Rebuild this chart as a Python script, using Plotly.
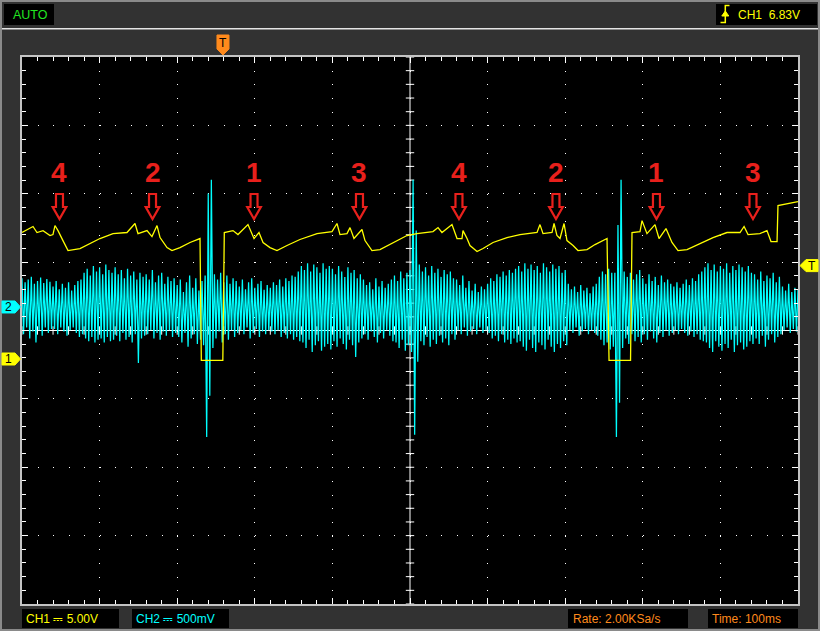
import numpy as np
import plotly.graph_objects as go

TIME_PER_DIV_MS = 100          # Time: 100ms
CH1_V_PER_DIV = 5.0            # CH1 5.00V
CH2_MV_PER_DIV = 500.0         # CH2 500mV
CH1_OFFSET_DIV = -0.417        # CH1 ground marker position (divisions from centre)
CH2_OFFSET_DIV = 0.344         # CH2 ground marker position
TRIGGER_MS = 259               # horizontal trigger position
TRIGGER_LEVEL_V = 6.83         # CH1 trigger level

# CH1 (yellow) samples: time [ms] and voltage [V]
ch1_time_ms = [0, 14.2, 19.3, 27.1, 36.1, 39.9, 42.5, 46.4, 52.8, 59.3,
               74.7, 87.6, 100.5, 117.3, 135.3, 145.6, 149.5, 161.1, 167.5, 174.0,
               177.9, 186.9, 193.3, 203.6, 216.5, 229.4, 231.1, 258.8, 260.7, 271.9,
               278.3, 291.2, 299.0, 305.4, 310.6, 319.6, 328.6, 341.5, 358.2, 380.2,
               399.5, 405.9, 409.8, 418.8, 422.7, 427.8, 438.1, 442.0, 451.0, 461.3,
               476.8, 491.0, 496.1, 509.0, 529.6, 536.1, 541.2, 554.1, 558.0, 560.6,
               567.0, 568.3, 573.5, 577.3, 586.4, 594.1, 607.0, 625.0, 641.8, 663.7,
               667.5, 671.4, 683.0, 685.6, 689.4, 693.3, 698.5, 702.3, 710.1, 716.5,
               728.1, 738.4, 753.9, 756.5, 784.2, 786.1, 796.4, 799.0, 805.4, 815.7,
               820.9, 829.9, 837.6, 845.4, 857.0, 873.7, 890.5, 908.5, 925.3, 930.5,
               935.6, 950.8, 960.0, 965.2, 973.0, 974.2, 985.8, 1000]
ch1_volts = [9.25, 9.69, 9.25, 9.39, 9.03, 9.10, 9.76, 9.39, 8.66, 7.93,
             8.08, 8.44, 8.81, 9.17, 9.25, 9.91, 9.17, 9.39, 8.95, 9.76,
             8.88, 8.15, 7.93, 8.15, 8.52, 8.81, -0.1, -0.1, 9.25, 9.39,
             9.10, 9.83, 8.81, 9.25, 8.52, 8.15, 7.93, 8.30, 8.74, 9.17,
             9.32, 9.91, 9.10, 9.17, 9.61, 8.81, 9.47, 8.66, 7.93, 8.00,
             8.44, 8.88, 9.03, 9.17, 9.32, 9.61, 9.25, 9.83, 9.25, 8.81,
             8.81, 9.39, 8.81, 8.30, 7.86, 8.08, 8.52, 8.88, 9.10, 9.25,
             9.83, 9.17, 9.25, 9.91, 9.03, 8.81, 9.91, 8.66, 8.30, 7.93,
             8.00, 8.37, 8.81, -0.1, -0.1, 9.25, 9.32, 10.12, 9.17, 9.83,
             8.81, 9.54, 8.52, 7.93, 8.00, 8.44, 8.88, 9.25, 9.25, 9.69,
             9.10, 9.17, 9.39, 8.59, 8.59, 11.22, 11.37, 11.51]

# CH2 (cyan): one oscillation every 4 ms, peak and trough of each one [mV]
ch2_step_ms = 4
ch2_peak_mv = [
    210, 180, 200, 220, 170, 190, 215, 175, 205, 185,
    150, 190, 130, 170, 140, 180, 120, 160, 190, 200,
    250, 280, 230, 300, 260, 290, 240, 310, 270, 250,
    290, 240, 270, 210, 280, 230, 260, 200, 250, 220,
    240, 200, 270, 180, 230, 250, 170, 220, 190, 210,
    160, 200, 110, 180, 230, 140, 210, 120, 190,
    230, 830, 930,
    240, 200, 250, 180, 230, 170, 210, 190,
    150, 200, 130, 180, 210, 140, 170, 190, 125, 160,
    140, 180, 160, 200, 150, 210, 190, 230, 220, 260,
    300, 270, 320, 260, 310, 290, 250, 320, 280, 300,
    280, 240, 300, 260, 220, 290, 250, 270, 210, 240,
    200, 160, 180, 130, 210, 150, 190, 140, 170, 200,
    230, 190, 260, 210, 250, 270,
    930, 560,
    310, 260, 290, 230, 300, 250, 280, 220, 270, 240, 260, 210,
    200, 160, 230, 140, 190, 120, 170, 110, 150, 130,
    170, 210, 190, 240, 220, 260, 230, 270, 250, 280,
    300, 260, 320, 280, 310, 270, 300, 250, 320, 290, 260, 310, 280, 300, 250, 270,
    170, 130, 150, 110, 160, 120, 140, 100, 150, 170,
    220, 260, 240, 280, 250,
    250, 600, 930,
    260, 220, 250, 200, 240, 270,
    210, 170, 240, 190, 220, 160, 230, 180, 200, 170,
    150, 180, 140, 170, 200, 160, 210, 190, 240, 260,
    290, 320, 270, 310, 260, 300, 280, 320, 250, 300, 270, 310, 290, 260, 300, 250,
    240, 200, 260, 190, 230, 210, 250, 180, 220,
    150, 120, 170, 110, 140, 130]
ch2_trough_mv = [
    -200, -150, -230, -180, -260, -170, -210, -150, -190, -160,
    -160, -200, -150, -180, -210, -170, -150, -190, -220, -200,
    -230, -250, -220, -260, -240, -230, -260, -220, -250, -240,
    -210, -250, -190, -240, -220, -260, -200, -410, -230, -210,
    -200, -170, -230, -190, -240, -180, -210, -170, -220, -190,
    -220, -260, -190, -290, -230, -200, -270, -240, -280,
    -950, -650, -300,
    -230, -180, -260, -200, -240, -170, -220, -190,
    -170, -200, -150, -230, -190, -160, -220, -180, -200, -170,
    -180, -200, -170, -220, -190, -230, -200, -240, -220, -250,
    -260, -300, -240, -330, -280, -250, -320, -290, -270, -310,
    -250, -290, -230, -270, -310, -240, -280, -365, -260, -230,
    -200, -240, -180, -220, -260, -190, -230, -170, -210, -250,
    -260, -300, -240, -320, -280, -330,
    -935, -400,
    -250, -280, -220, -290, -240, -270, -210, -260, -230, -280, -200, -240,
    -170, -200, -150, -210, -180, -160, -200, -150, -190, -170,
    -190, -230, -210, -250, -200, -260, -240, -270, -230, -260,
    -250, -290, -320, -240, -300, -330, -260, -280, -310, -240, -290, -330, -270, -300, -250, -280,
    -170, -190, -150, -210, -180, -160, -200, -170, -190, -210,
    -240, -280, -260, -310, -290,
    -950, -700, -300,
    -230, -270, -200, -250, -220, -260,
    -200, -240, -180, -230, -260, -190, -220, -170, -210, -190,
    -170, -200, -160, -190, -210, -180, -220, -200, -240, -250,
    -260, -300, -330, -250, -290, -320, -270, -300, -240, -330, -280, -260, -310, -290, -250, -270,
    -230, -270, -210, -290, -240, -200, -260, -220, -200,
    -170, -150, -190, -160, -180, -160]

# red numbered markers above the CH1 trace
event_ms = [48.3, 168.2, 299.0, 434.9, 563.1, 688.1, 817.6, 942.0]
event_labels = ["4", "2", "1", "3", "4", "2", "1", "3"]

header_mode = "AUTO"
header_trigger = "CH1\u00a0\u00a06.83V"
footer_ch1 = "CH1 \u2393 5.00V"
footer_ch2 = "CH2 \u2393 500mV"
footer_rate = "Rate: 2.00KSa/s"
footer_time = "Time: 100ms"

# ---------------- geometry ----------------
W, H = 820, 631
ML, MR, MT, MB = 22, 22, 57, 27
PW, PH = W - ML - MR, H - MT - MB
NX, NY = 10, 8
X_MAX = NX * TIME_PER_DIV_MS
MS_PER_PX = X_MAX / PW
DIV_PER_PX = NY / PH


def px(x):
    return (x - ML) / PW


def py(y):
    return (H - MB - y) / PH


FONT = "Liberation Sans, Arial, DejaVu Sans, sans-serif"
YEL, CYAN, ORANGE, GREEN, RED = "#ffff00", "#00ffff", "#ff8a1c", "#22e622", "#e8201c"

ch1_div = [CH1_OFFSET_DIV + v / CH1_V_PER_DIV for v in ch1_volts]
n2 = min(len(ch2_peak_mv), len(ch2_trough_mv))
ch2_t, ch2_div = [], []
for i in range(n2):
    ch2_t += [i * ch2_step_ms, i * ch2_step_ms + ch2_step_ms / 2]
    ch2_div += [CH2_OFFSET_DIV + ch2_peak_mv[i] / CH2_MV_PER_DIV,
                CH2_OFFSET_DIV + ch2_trough_mv[i] / CH2_MV_PER_DIV]

fig = go.Figure()

# ticks on the centre cross
minor_y = np.arange(-NY / 2, NY / 2 + 1e-9, 0.2)
minor_x = np.arange(0, X_MAX + 1e-9, TIME_PER_DIV_MS / 5)
fig.add_trace(go.Scatter(x=[X_MAX / 2] * len(minor_y), y=minor_y, mode="markers",
                         marker=dict(symbol="line-ew", size=6, line=dict(width=1, color="#ffffff")),
                         hoverinfo="skip"))
fig.add_trace(go.Scatter(x=minor_x, y=[0] * len(minor_x), mode="markers",
                         marker=dict(symbol="line-ns", size=6, line=dict(width=1, color="#ffffff")),
                         hoverinfo="skip"))

fig.add_trace(go.Scatter(x=ch2_t, y=ch2_div, mode="lines",
                         line=dict(color=CYAN, width=1.25), hoverinfo="skip"))
fig.add_trace(go.Scatter(x=ch1_time_ms, y=ch1_div, mode="lines",
                         line=dict(color=YEL, width=1.3), hoverinfo="skip"))

shapes, annotations = [], []

# centre cross
shapes.append(dict(type="line", xref="x", yref="paper", x0=X_MAX / 2, x1=X_MAX / 2, y0=0, y1=1,
                   line=dict(color="#ffffff", width=1), layer="below"))
shapes.append(dict(type="line", xref="paper", yref="y", x0=0, x1=1, y0=0, y1=0,
                   line=dict(color="#ffffff", width=1), layer="below"))

# outer frame and header rule
shapes.append(dict(type="rect", xref="paper", yref="paper", x0=px(1), x1=px(819), y0=py(630), y1=py(1),
                   line=dict(color="#8a8a8a", width=2), layer="above"))
shapes.append(dict(type="line", xref="paper", yref="paper", x0=px(2), x1=px(818), y0=py(28.8), y1=py(28.8),
                   line=dict(color="#e4e4e4", width=1.6), layer="above"))


def box(x0, y0, x1, y1):
    shapes.append(dict(type="rect", xref="paper", yref="paper", x0=px(x0), x1=px(x1), y0=py(y1), y1=py(y0),
                       fillcolor="#000000", line=dict(width=0), layer="above"))


def text(s, x, y, color, size=12, xanchor="left"):
    annotations.append(dict(text=s, x=px(x), y=py(y), xref="paper", yref="paper", xanchor=xanchor,
                            yanchor="middle", showarrow=False,
                            font=dict(family=FONT, size=size, color=color)))


box(4, 4, 54, 25)
text(header_mode, 11, 15, GREEN, size=12.5)
box(716, 4, 817, 25)
text(header_trigger, 736, 15, YEL)
# rising-edge trigger symbol
shapes.append(dict(type="path", xref="paper", yref="paper",
                   path=f"M {px(720.5)},{py(22.5)} L {px(725.3)},{py(22.5)} L {px(725.3)},{py(5.5)} L {px(729.5)},{py(5.5)}",
                   line=dict(color=YEL, width=1.5), layer="above"))
shapes.append(dict(type="path", xref="paper", yref="paper",
                   path=f"M {px(721.8)},{py(16)} L {px(728.8)},{py(16)} L {px(725.3)},{py(11)} Z",
                   fillcolor=YEL, line=dict(color=YEL, width=1), layer="above"))

box(22, 609, 119, 628)
text(footer_ch1, 24, 618.5, YEL)
box(132, 609, 229, 628)
text(footer_ch2, 134, 618.5, CYAN)
box(568, 609, 688, 628)
text(footer_rate, 571, 618.5, ORANGE)
box(708, 609, 798, 628)
text(footer_time, 710, 618.5, ORANGE)

# trigger position marker (top)
hx = 6 * MS_PER_PX
shapes.append(dict(type="path", xref="x", yref="paper",
                   path=(f"M {TRIGGER_MS - hx},{py(35)} L {TRIGGER_MS + hx},{py(35)} L {TRIGGER_MS + hx},{py(49)} "
                         f"L {TRIGGER_MS},{py(55)} L {TRIGGER_MS - hx},{py(49)} Z"),
                   fillcolor=ORANGE, line=dict(color=ORANGE, width=1), layer="above"))
annotations.append(dict(text="T", x=TRIGGER_MS, y=py(43), xref="x", yref="paper", showarrow=False,
                        xanchor="center", yanchor="middle", font=dict(family=FONT, size=12, color="#000000")))

# channel ground markers (left) and trigger level marker (right)
hy = 6 * DIV_PER_PX


def side_marker(div, color, label, left=True):
    if left:
        path = (f"M {px(2)},{div + hy} L {px(15)},{div + hy} L {px(20.5)},{div} "
                f"L {px(15)},{div - hy} L {px(2)},{div - hy} Z")
        tx = px(8.5)
    else:
        path = (f"M {px(818)},{div + hy} L {px(806)},{div + hy} L {px(800)},{div} "
                f"L {px(806)},{div - hy} L {px(818)},{div - hy} Z")
        tx = px(812)
    shapes.append(dict(type="path", xref="paper", yref="y", path=path, fillcolor=color,
                       line=dict(color=color, width=1), layer="above"))
    annotations.append(dict(text=label, x=tx, y=div, xref="paper", yref="y", showarrow=False,
                            xanchor="center", yanchor="middle",
                            font=dict(family=FONT, size=12, color="#000000")))


side_marker(CH2_OFFSET_DIV, CYAN, "2")
side_marker(CH1_OFFSET_DIV, YEL, "1")
side_marker(CH1_OFFSET_DIV + TRIGGER_LEVEL_V / CH1_V_PER_DIV, YEL, "T", left=False)

# red numbered arrows
a_top = (330.5 - 194) * DIV_PER_PX
a_head = (330.5 - 207) * DIV_PER_PX
a_tip = (330.5 - 219) * DIV_PER_PX
lab_y = (330.5 - 172) * DIV_PER_PX
sw, hw = 3.5 * MS_PER_PX, 6.8 * MS_PER_PX
for t, lab in zip(event_ms, event_labels):
    shapes.append(dict(type="path", xref="x", yref="y",
                       path=(f"M {t - sw},{a_top} L {t + sw},{a_top} L {t + sw},{a_head} L {t + hw},{a_head} "
                             f"L {t},{a_tip} L {t - hw},{a_head} L {t - sw},{a_head} Z"),
                       line=dict(color=RED, width=2.2), fillcolor="rgba(0,0,0,0)", layer="above"))
    annotations.append(dict(text=lab, x=t, y=lab_y, xref="x", yref="y", showarrow=False,
                            xanchor="center", yanchor="middle",
                            font=dict(family=FONT, size=28, color=RED, weight="bold")))

axis_common = dict(showticklabels=False, zeroline=False, showline=True, linecolor="#c4c4c4", linewidth=2,
                   mirror="ticks", ticks="inside", ticklen=6, tickwidth=1, tickcolor="#ffffff",
                   showgrid=True, gridcolor="#ffffff", gridwidth=1, fixedrange=True)

fig.update_layout(
    width=W, height=H, margin=dict(l=ML, r=MR, t=MT, b=MB, pad=0),
    paper_bgcolor="#323232", plot_bgcolor="#000000", showlegend=False, hovermode=False,
    xaxis=dict(range=[0, X_MAX], tick0=0, dtick=TIME_PER_DIV_MS,
               griddash=f"1px,{PH / NY / 5 - 1:.3f}px",
               minor=dict(tick0=0, dtick=TIME_PER_DIV_MS / 5, ticks="inside", ticklen=4,
                          tickcolor="#ffffff", tickwidth=1, showgrid=False),
               **axis_common),
    yaxis=dict(range=[-NY / 2, NY / 2], tick0=0, dtick=1,
               griddash=f"1px,{PW / NX / 5 - 1:.3f}px",
               minor=dict(tick0=0, dtick=0.2, ticks="inside", ticklen=4,
                          tickcolor="#ffffff", tickwidth=1, showgrid=False),
               **axis_common),
    shapes=shapes, annotations=annotations,
)

fig.write_html("out.html", config={"displayModeBar": False},
               post_script="document.body.style.margin='0';document.body.style.overflow='hidden';")
